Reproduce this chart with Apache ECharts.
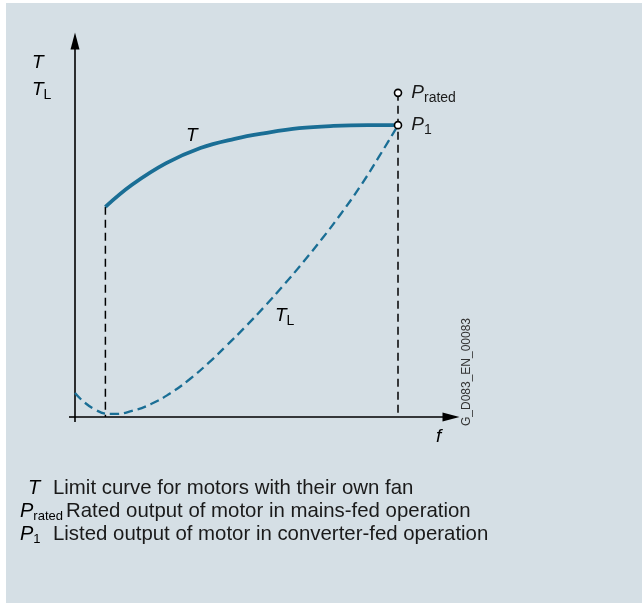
<!DOCTYPE html>
<html><head><meta charset="utf-8">
<script src="https://cdn.jsdelivr.net/npm/echarts@6/dist/echarts.min.js"></script>
<style>
html,body{margin:0;padding:0;background:#fff;}
#bg{position:absolute;left:6px;top:3px;right:0;bottom:0;background:#d5dfe5;}
#chart{position:absolute;left:0;top:0;width:642px;height:603px;}
</style></head><body>
<div id="bg"></div><div id="chart"></div>
<script>
// Limit curve T (motor with own fan)
const T_FREQ = [8, 15, 24, 33, 42, 50, 59, 68, 77, 85];
const T_VALUES = [55.3, 61.1, 66.8, 70.8, 73.2, 74.7, 76.0, 76.6, 76.8, 76.8];
// Load torque T_L (dashed)
const TL_FREQ = [0, 5, 10, 15, 20, 25, 30, 35, 40, 45, 50, 55, 60, 65, 70, 75, 80, 85];
const TL_VALUES = [6.3, 2.1, 0.8, 1.6, 3.4, 6.2, 9.8, 14.1, 18.9, 23.9, 29.2, 34.8, 40.7, 46.9, 53.5, 60.6, 68.5, 76.8];
// Operating points
const POINT_NAMES = ['rated', '1'];
const POINT_FREQ = [85, 85];
const POINT_VALUES = [85.3, 76.8];
// Legend
const LEGEND_SYMBOLS = ['{i|T}', '{i|P}{s|rated}', '{i|P}{s|1}'];
const LEGEND_TEXTS = [
  'Limit curve for motors with their own fan',
  'Rated output of motor in mains-fed operation',
  'Listed output of motor in converter-fed operation'
];
const WATERMARK = 'G_D083_EN_00083';

const FONT = '"Liberation Sans", Arial, sans-serif';
const TXT = '#1a1a1a';
const BLUE = '#1a6e95';
const rich = {
  i: {fontFamily: FONT, fontSize: 19, fontStyle: 'italic', color: TXT, lineHeight: 24, verticalAlign: 'middle'},
  s: {fontFamily: FONT, fontSize: 14, color: TXT, lineHeight: 12, verticalAlign: 'bottom'}
};
const richLegend = {
  i: {fontFamily: FONT, fontSize: 20, fontStyle: 'italic', color: TXT, lineHeight: 24, verticalAlign: 'middle'},
  s: {fontFamily: FONT, fontSize: 13, color: TXT, lineHeight: 12, verticalAlign: 'bottom'}
};

const chart = echarts.init(document.getElementById('chart'), null, {renderer: 'canvas'});

const tData = T_FREQ.map((f, i) => [f, T_VALUES[i]]);
const tlData = TL_FREQ.map((f, i) => [f, TL_VALUES[i]]);
const v1 = [[T_FREQ[0], T_VALUES[0]], [T_FREQ[0], 0]];
const v2 = [[POINT_FREQ[0], Math.max(...POINT_VALUES)], [POINT_FREQ[0], 0]];
const points = POINT_NAMES.map((n, i) => ({name: n, value: [POINT_FREQ[i], POINT_VALUES[i]]}));

const graphics = [
  {type: 'text', x: 32, y: 63, style: {text: '{i|T}', rich: rich, align: 'left', verticalAlign: 'middle'}},
  {type: 'text', x: 32, y: 90, style: {text: '{i|T}{s|L}', rich: rich, align: 'left', verticalAlign: 'middle'}},
  {type: 'text', x: 186, y: 136, style: {text: '{i|T}', rich: rich, align: 'left', verticalAlign: 'middle'}},
  {type: 'text', x: 275, y: 316, style: {text: '{i|T}{s|L}', rich: rich, align: 'left', verticalAlign: 'middle'}},
  {type: 'text', x: 436, y: 437, style: {text: '{i|f}', rich: rich, align: 'left', verticalAlign: 'middle'}},
  {type: 'text', x: 467, y: 372, rotation: Math.PI / 2,
   style: {text: WATERMARK, fontFamily: FONT, fontSize: 12, fill: '#333', align: 'center', verticalAlign: 'middle'}}
];
const legendX = [28, 20, 20];
const legendTextX = [53, 66, 53];
LEGEND_SYMBOLS.forEach((s, i) => {
  const y = 488 + i * 23;
  graphics.push({type: 'text', x: legendX[i], y: y, style: {text: s, rich: richLegend, align: 'left', verticalAlign: 'middle'}});
  graphics.push({type: 'text', x: legendTextX[i], y: y,
    style: {text: LEGEND_TEXTS[i], fontFamily: FONT, fontSize: 20.4, fill: TXT, align: 'left', verticalAlign: 'middle'}});
});

chart.setOption({
  animation: false,
  backgroundColor: 'transparent',
  grid: {left: 75, top: 37, width: 380, height: 380, containLabel: false},
  xAxis: {
    type: 'value', min: 0, max: 100,
    axisLine: {show: true, onZero: false, symbol: ['none', 'triangle'], symbolSize: [9, 17], symbolOffset: [0, -4],
      lineStyle: {color: '#000', width: 1.6}},
    axisTick: {show: true, customValues: [0], length: 5, lineStyle: {color: '#000', width: 1.6}},
    axisLabel: {show: false}, splitLine: {show: false}
  },
  yAxis: {
    type: 'value', min: 0, max: 100,
    axisLine: {show: true, onZero: false, symbol: ['none', 'triangle'], symbolSize: [9, 17], symbolOffset: [0, -4],
      lineStyle: {color: '#000', width: 1.6}},
    axisTick: {show: true, customValues: [0], length: 6, lineStyle: {color: '#000', width: 1.6}},
    axisLabel: {show: false}, splitLine: {show: false}
  },
  graphic: graphics,
  series: [
    {type: 'line', data: v1, symbol: 'none', z: 1, silent: true,
     lineStyle: {color: '#000', width: 1.5, type: [8, 5]}},
    {type: 'line', data: v2, symbol: 'none', z: 1, silent: true,
     lineStyle: {color: '#000', width: 1.5, type: [8, 5]}},
    {type: 'line', data: tlData, smooth: true, symbol: 'none', z: 2,
     lineStyle: {color: BLUE, width: 2.3, type: [9, 5]}},
    {type: 'line', data: tData, smooth: 0.4, symbol: 'none', z: 3,
     lineStyle: {color: BLUE, width: 3.8, cap: 'butt'}},
    {type: 'scatter', data: points, symbol: 'circle', symbolSize: 7, z: 5,
     itemStyle: {color: '#fff', borderColor: '#000', borderWidth: 1.6, opacity: 1},
     label: {show: true, position: 'right', distance: 9, color: TXT,
       formatter: p => '{i|P}{s|' + p.name + '}', rich: rich}}
  ]
});
</script>
</body></html>
